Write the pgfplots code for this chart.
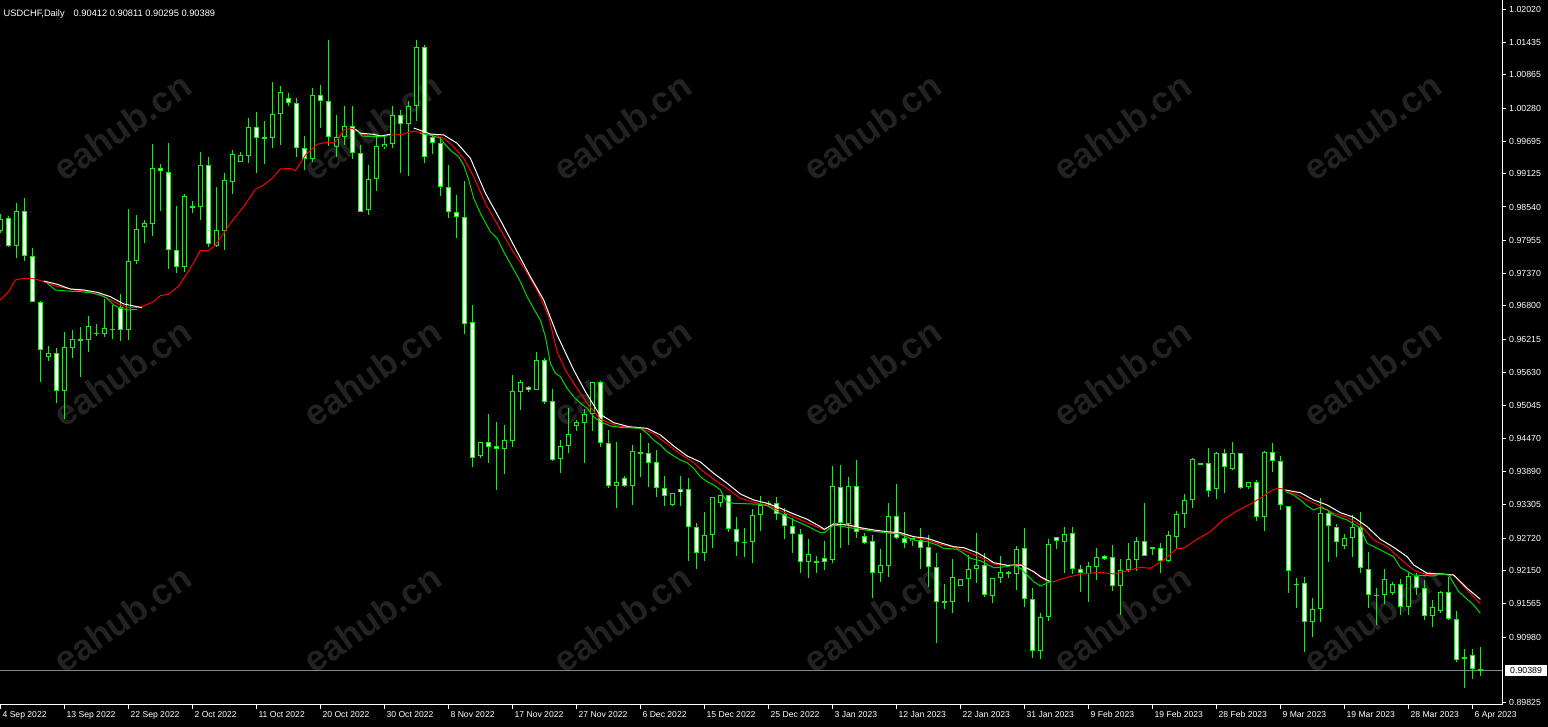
\documentclass[border=0pt]{standalone}
\usepackage{fontspec}
\setmainfont{Liberation Sans}
\usepackage{pgfplots}
\usepackage{pgfplotstable}
\pgfplotsset{compat=1.18}
\definecolor{mtlime}{RGB}{0,255,0}
\definecolor{magreen}{RGB}{0,215,0}
\definecolor{wm}{RGB}{34,34,34}
\definecolor{bidline}{RGB}{119,136,153}

\pgfplotstableread{
k o h l c
0 0.98118 0.98417 0.98083 0.98329
1 0.98347 0.98382 0.97837 0.97854
2 0.97854 0.98610 0.97643 0.98470
3 0.98470 0.98698 0.97591 0.97679
4 0.97679 0.97819 0.96870 0.96870
5 0.96870 0.96887 0.95463 0.96026
6 0.95903 0.96096 0.95833 0.95973
7 0.95973 0.96061 0.95094 0.95305
8 0.95305 0.96342 0.94813 0.96079
9 0.96061 0.96378 0.95885 0.96219
10 0.96202 0.96430 0.95551 0.96210
11 0.96202 0.96624 0.95991 0.96448
12 0.96325 0.96483 0.96272 0.96325
13 0.96307 0.96923 0.96255 0.96413
14 0.96395 0.96817 0.96219 0.96395
15 0.96782 0.97010 0.96184 0.96378
16 0.96378 0.98505 0.96202 0.97591
17 0.97591 0.98399 0.97538 0.98153
18 0.98188 0.98311 0.97907 0.98259
19 0.98241 0.99647 0.98030 0.99226
20 0.99226 0.99296 0.98470 0.99173
21 0.99155 0.99665 0.97450 0.97784
22 0.97784 0.98558 0.97380 0.97485
23 0.97485 0.98768 0.97397 0.98733
24 0.98558 0.98645 0.98434 0.98522
25 0.98540 0.99507 0.98311 0.99278
26 0.99278 0.99419 0.97837 0.97889
27 0.97854 0.98892 0.97837 0.98136
28 0.98118 0.99138 0.97784 0.99015
29 0.98979 0.99542 0.98768 0.99472
30 0.99331 0.99507 0.99331 0.99454
31 0.99437 1.00105 0.99313 0.99946
32 0.99946 1.00210 0.99138 0.99753
33 0.99753 1.00052 0.99296 0.99753
34 0.99753 1.00737 0.99577 1.00175
35 1.00175 1.00667 0.99630 1.00562
36 1.00456 1.00544 1.00316 1.00368
37 1.00368 1.00456 0.99419 0.99577
38 0.99577 0.99788 0.99190 0.99384
39 0.99384 1.00632 0.99331 1.00509
40 1.00509 1.00685 0.99929 1.00403
41 1.00403 1.01476 0.99612 0.99771
42 0.99595 1.00157 0.99419 0.99771
43 0.99771 1.00316 0.99630 0.99964
44 0.99964 1.00316 0.99384 0.99489
45 0.99489 0.99630 0.98452 0.98452
46 0.98487 0.99278 0.98399 0.99032
47 0.99032 0.99771 0.98821 0.99612
48 0.99595 0.99771 0.99560 0.99647
49 0.99647 1.00316 0.99577 1.00157
50 1.00157 1.00245 0.99138 0.99999
51 0.99999 1.00403 0.99085 1.00316
52 1.00316 1.01476 1.00052 1.01353
53 1.01353 1.01388 0.99313 0.99419
54 0.99771 0.99823 0.99472 0.99665
55 0.99665 0.99771 0.98733 0.98892
56 0.98892 0.99278 0.98347 0.98452
57 0.98452 0.98751 0.97995 0.98364
58 0.98364 0.98997 0.96307 0.96483
59 0.96518 0.96817 0.93969 0.94127
60 0.94163 0.94409 0.94127 0.94409
61 0.94409 0.94901 0.94039 0.94321
62 0.94338 0.94760 0.93565 0.94286
63 0.94286 0.94707 0.93846 0.94444
64 0.94426 0.95586 0.94321 0.95305
65 0.95288 0.95499 0.94971 0.95463
66 0.95376 0.95393 0.95288 0.95323
67 0.95323 0.95991 0.95323 0.95850
68 0.95850 0.95885 0.95077 0.95112
69 0.95129 0.95340 0.94075 0.94092
70 0.94110 0.94444 0.93864 0.94338
71 0.94338 0.95006 0.94215 0.94549
72 0.94690 0.94795 0.94602 0.94760
73 0.94743 0.94989 0.94039 0.94901
74 0.94901 0.95463 0.94602 0.95463
75 0.95463 0.95481 0.94321 0.94391
76 0.94391 0.94620 0.93600 0.93635
77 0.93635 0.94409 0.93248 0.93705
78 0.93776 0.93811 0.93618 0.93635
79 0.93635 0.94356 0.93301 0.94250
80 0.94215 0.94567 0.93793 0.94233
81 0.94215 0.94391 0.93618 0.94039
82 0.94057 0.94268 0.93442 0.93600
83 0.93600 0.93811 0.93284 0.93459
84 0.93301 0.93512 0.93284 0.93512
85 0.93582 0.93811 0.93284 0.93530
86 0.93582 0.93776 0.92317 0.92914
87 0.92914 0.92985 0.92176 0.92457
88 0.92457 0.93178 0.92317 0.92774
89 0.92774 0.93442 0.92545 0.93442
90 0.93336 0.93477 0.93266 0.93477
91 0.93477 0.93477 0.92826 0.92879
92 0.92879 0.93090 0.92405 0.92651
93 0.92651 0.92897 0.92387 0.92651
94 0.92651 0.93231 0.92281 0.93125
95 0.93125 0.93459 0.92844 0.93301
96 0.93336 0.93371 0.93284 0.93336
97 0.93336 0.93442 0.93037 0.93143
98 0.93143 0.93248 0.92703 0.92932
99 0.92932 0.93073 0.92457 0.92791
100 0.92791 0.92879 0.92106 0.92299
101 0.92299 0.92703 0.92018 0.92440
102 0.92299 0.92405 0.92106 0.92299
103 0.92369 0.92668 0.92158 0.92299
104 0.92334 0.93987 0.92281 0.93635
105 0.93618 0.94004 0.92545 0.92985
106 0.92967 0.93793 0.92598 0.93635
107 0.93635 0.94092 0.92721 0.92826
108 0.92756 0.92809 0.92615 0.92633
109 0.92668 0.92774 0.91666 0.92106
110 0.92106 0.92528 0.91947 0.92246
111 0.92229 0.93336 0.92035 0.93108
112 0.93108 0.93670 0.92703 0.92721
113 0.92721 0.93178 0.92545 0.92633
114 0.92668 0.92721 0.92580 0.92721
115 0.92686 0.92897 0.92176 0.92545
116 0.92563 0.92774 0.91860 0.92211
117 0.92211 0.92457 0.90875 0.91596
118 0.91613 0.91912 0.91473 0.91578
119 0.91596 0.92352 0.91402 0.92035
120 0.91877 0.92000 0.91877 0.92000
121 0.92000 0.92422 0.91596 0.92176
122 0.92176 0.92809 0.91930 0.92246
123 0.92246 0.92457 0.91684 0.91719
124 0.91701 0.92018 0.91578 0.92018
125 0.92018 0.92405 0.91930 0.92123
126 0.92123 0.92141 0.92018 0.92088
127 0.92088 0.92580 0.91807 0.92528
128 0.92545 0.92897 0.91508 0.91649
129 0.91649 0.91842 0.90611 0.90734
130 0.90734 0.91402 0.90594 0.91332
131 0.91332 0.92703 0.91262 0.92615
132 0.92739 0.92739 0.92528 0.92668
133 0.92651 0.92914 0.92106 0.92791
134 0.92809 0.92914 0.92088 0.92176
135 0.92176 0.92246 0.91772 0.92106
136 0.92088 0.92299 0.91596 0.92229
137 0.92211 0.92545 0.91983 0.92387
138 0.92405 0.92422 0.92334 0.92352
139 0.92387 0.92598 0.91789 0.91877
140 0.91877 0.92352 0.91367 0.92158
141 0.92158 0.92633 0.92123 0.92352
142 0.92334 0.92739 0.92141 0.92668
143 0.92668 0.93336 0.92405 0.92405
144 0.92545 0.92545 0.92422 0.92545
145 0.92545 0.92633 0.92106 0.92317
146 0.92317 0.92844 0.92299 0.92774
147 0.92739 0.93196 0.92545 0.93143
148 0.93143 0.93494 0.92897 0.93389
149 0.93389 0.94127 0.93248 0.94110
150 0.94004 0.94039 0.94004 0.94039
151 0.94039 0.94303 0.93442 0.93547
152 0.93582 0.94233 0.93407 0.94215
153 0.94215 0.94286 0.93512 0.93969
154 0.93934 0.94409 0.93916 0.94215
155 0.94215 0.94215 0.93582 0.93600
156 0.93618 0.93705 0.93582 0.93705
157 0.93705 0.93741 0.93020 0.93090
158 0.93090 0.94250 0.92844 0.94233
159 0.94233 0.94391 0.93881 0.94075
160 0.94075 0.94163 0.93213 0.93301
161 0.93284 0.93284 0.91754 0.92141
162 0.91912 0.92018 0.91490 0.91912
163 0.91930 0.92035 0.90717 0.91244
164 0.91244 0.91666 0.90981 0.91473
165 0.91473 0.93424 0.91244 0.93160
166 0.93160 0.93213 0.92299 0.92932
167 0.92914 0.92967 0.92387 0.92651
168 0.92580 0.92791 0.92528 0.92721
169 0.92721 0.93125 0.92387 0.92914
170 0.92914 0.93178 0.92106 0.92194
171 0.92176 0.92475 0.91490 0.91719
172 0.91719 0.91842 0.91191 0.91719
173 0.91719 0.92176 0.91561 0.92000
174 0.91754 0.91947 0.91719 0.91912
175 0.91912 0.92000 0.91367 0.91508
176 0.91508 0.92106 0.91367 0.92053
177 0.92053 0.92106 0.91719 0.91842
178 0.91842 0.91983 0.91279 0.91350
179 0.91350 0.91631 0.91156 0.91508
180 0.91438 0.91789 0.91402 0.91772
181 0.91772 0.92035 0.91279 0.91297
182 0.91297 0.91438 0.90541 0.90576
183 0.90629 0.90770 0.90084 0.90594
184 0.90664 0.90770 0.90242 0.90418
185 0.90412 0.90811 0.90295 0.90389
}\ohlc

\begin{document}
\begin{tikzpicture}
\fill[black] (0,0) rectangle (1548pt,727pt);
\foreach \wx in {122,372,622,872,1122,1372}{
  \foreach \wy in {127,373,619}{
    \node[text=wm, font=\fontsize{36}{36}\selectfont\bfseries, rotate=35, inner sep=0pt]
      at ({\wx pt},{727pt-\wy pt}) {eahub.cn};
  }
}
\node[anchor=west, text=white, font=\fontsize{9.3}{10}\selectfont, inner sep=0pt]
  at (3.5pt,712.5pt) {USDCHF,Daily\hspace{9pt}0.90412 0.90811 0.90295 0.90389};
\begin{axis}[
  at={(0pt,22pt)}, anchor=south west,
  scale only axis, width=1502pt, height=705pt,
  xmin=-0.05, xmax=187.7, ymin=0.89785, ymax=1.02179,
  axis x line*=bottom, axis y line*=right,
  axis line style={white, line width=1pt},
  tick style={white, line width=1pt},
  tick align=outside, major tick length=4pt,
  scaled ticks=false,
  xtick={0,8,...,184},
  xticklabels={4 Sep 2022,13 Sep 2022,22 Sep 2022,2 Oct 2022,11 Oct 2022,20 Oct 2022,30 Oct 2022,8 Nov 2022,17 Nov 2022,27 Nov 2022,6 Dec 2022,15 Dec 2022,25 Dec 2022,3 Jan 2023,12 Jan 2023,22 Jan 2023,31 Jan 2023,9 Feb 2023,19 Feb 2023,28 Feb 2023,9 Mar 2023,19 Mar 2023,28 Mar 2023,6 Apr 2023},
  ytick={1.0202,1.01435,1.00865,1.0028,0.99695,0.99125,0.9854,0.97955,0.9737,0.968,0.96215,0.9563,0.95045,0.9447,0.9389,0.93305,0.9272,0.9215,0.91565,0.9098,0.89825},
  yticklabels={1.02020,1.01435,1.00865,1.00280,0.99695,0.99125,0.98540,0.97955,0.97370,0.96800,0.96215,0.95630,0.95045,0.94470,0.93890,0.93305,0.92720,0.92150,0.91565,0.90980,0.89825},
  tick label style={text=white},
  xticklabel style={font=\fontsize{8.6}{10}\selectfont, anchor=base west, inner sep=0pt, xshift=2pt, yshift=-8.5pt},
  yticklabel style={font=\fontsize{8.8}{10}\selectfont, anchor=west, inner sep=0pt, xshift=3pt},
  clip mode=individual,
  error bars/error mark=none,
]
% bid line
\addplot[bidline, line width=1pt, mark=none] coordinates {(-0.05,0.90389) (187.7,0.90389)};
% wicks
\addplot[draw=none, mark=none, error bars/.cd, y dir=both, y explicit,
  error bar style={draw=mtlime, line width=1pt}]
  table[x=k, y expr={(\thisrow{h}+\thisrow{l})/2}, y error expr={(\thisrow{h}-\thisrow{l})/2}] {\ohlc};
% body outlines
\addplot[draw=none, mark=none, error bars/.cd, y dir=both, y explicit,
  error bar style={draw=mtlime, line width=5pt}]
  table[x=k, y expr={(\thisrow{o}+\thisrow{c})/2}, y error expr={max(abs(\thisrow{o}-\thisrow{c})/2,0.00009)}] {\ohlc};
% bear fill (white)
\addplot[draw=none, mark=none, restrict expr to domain={\thisrow{o}-\thisrow{c}}{0.0004:1},
  error bars/.cd, y dir=both, y explicit,
  error bar style={draw=white, line width=3pt}]
  table[x=k, y expr={(\thisrow{o}+\thisrow{c})/2}, y error expr={(\thisrow{o}-\thisrow{c})/2-0.000176}] {\ohlc};
% bull fill (black)
\addplot[draw=none, mark=none, restrict expr to domain={\thisrow{c}-\thisrow{o}}{0.0004:1},
  error bars/.cd, y dir=both, y explicit,
  error bar style={draw=black, line width=3pt}]
  table[x=k, y expr={(\thisrow{o}+\thisrow{c})/2}, y error expr={(\thisrow{c}-\thisrow{o})/2-0.000176}] {\ohlc};

% red MA
\addplot[red, line width=1pt, mark=none] coordinates {
(0,0.96905) (1.04,0.97051) (1.88,0.97257) (2.91,0.97286) (3.96,0.97286) (5.21,0.97239) (6.88,0.97151) (8.96,0.97093) (11.04,0.97051) (12.91,0.96963) (13.96,0.96893) (15,0.96817) (16.04,0.9677) (17.5,0.96777) (19.16,0.96875) (20,0.96981) (21.04,0.97005) (22.29,0.97151) (23.75,0.97462) (25,0.97772) (26.04,0.97772) (26.88,0.97872) (27.91,0.98078) (28.75,0.98253) (30.41,0.98545) (31.88,0.98851) (32.91,0.98927) (33.96,0.99044) (35,0.99208) (36.25,0.9922) (36.88,0.99178) (38.13,0.99454) (39.59,0.99642) (41.04,0.99683) (41.66,0.9966) (42.29,0.99748) (42.91,0.99894) (43.96,0.99923) (45.21,0.99823) (46.25,0.99788) (47.5,0.99788) (50.21,0.99818) (51.66,0.99876) (52.5,0.99846) (54.38,0.99806) (55.41,0.99748) (56.46,0.9963) (57.91,0.99396) (59.16,0.99073) (60.63,0.98605) (62.29,0.98194) (63.96,0.97784) (65.63,0.97432) (67.29,0.97023) (68.54,0.96611) (69.59,0.95996) (70.63,0.95674) (71.66,0.95441) (73.34,0.95089) (75,0.94808) (77.09,0.9469) (80,0.94649) (81.66,0.94562) (83.34,0.94373) (85,0.94198) (86.66,0.94045) (87.5,0.93934) (89.16,0.93753) (90.84,0.93595) (92.5,0.93419) (94.16,0.93349) (95.84,0.93301) (97.5,0.93201) (99.16,0.93095) (100.84,0.9299) (102.5,0.92891) (103,0.92862) (104.16,0.92979) (105.84,0.92944) (107.5,0.92891) (110,0.92832) (112.5,0.92804) (114.16,0.92733) (115.84,0.92686) (117.5,0.9261) (119.16,0.92557) (120.84,0.9248) (122.5,0.92378) (124.16,0.92264) (125.84,0.92234) (127.5,0.92259) (129.16,0.92129) (130.84,0.91953) (131.66,0.91953) (133.34,0.9203) (135,0.92083) (137.5,0.92118) (139.16,0.92088) (141.25,0.92158) (142.5,0.92206) (143.75,0.92188) (145.41,0.92334) (147.09,0.9254) (147.91,0.9254) (149.59,0.92698) (151.25,0.92832) (152.91,0.9305) (154.59,0.93196) (156.04,0.93301) (157.5,0.93424) (159.16,0.93577) (160,0.93595) (161.66,0.93507) (163.34,0.93389) (165,0.93284) (166.66,0.93155) (168.34,0.93085) (170,0.92949) (171.66,0.92686) (173.34,0.92568) (175,0.92352) (176.66,0.92158) (178.34,0.9207) (180,0.921) (181.66,0.9207) (183.34,0.91807) (185,0.91561)
};
% white MA segments
\addplot[white, line width=1pt, mark=none] coordinates {
(5.41,0.97239) (7.09,0.97181) (8.75,0.97098) (10.41,0.97081) (12.09,0.9704) (13.75,0.96963) (15.41,0.96835) (17.71,0.9677)
};
\addplot[white, line width=1pt, mark=none] coordinates {
(44.38,0.99906) (45,0.99836) (46.66,0.99818) (47.5,0.99788) (48.75,0.99818)
};
\addplot[white, line width=1pt, mark=none] coordinates {
(51.66,0.99929) (53.75,0.99823) (55.41,0.99806) (57.09,0.9966) (58.75,0.99396) (60.63,0.98781) (62.71,0.98253) (64.59,0.97754) (66.25,0.97315) (67.91,0.96905) (69.59,0.9629) (71.66,0.95674) (73.13,0.95293) (74.79,0.94913) (76.66,0.94748) (78.54,0.94678) (80.84,0.94649) (82.5,0.94532) (84.16,0.94338) (85.84,0.94163) (87.5,0.94057) (89.16,0.93858) (90.84,0.93683) (92.5,0.93494) (94.16,0.93389) (95.84,0.93331) (97.5,0.93243) (99.16,0.93143) (100.84,0.9305) (102.5,0.9292) (103,0.92874) (104.16,0.92967) (106.04,0.92949) (107.5,0.92902) (109.16,0.92862) (110.84,0.92832) (112.5,0.92814) (114.16,0.92744) (115.84,0.92716) (117.5,0.92638) (119.16,0.92568) (120.41,0.9255) (122.09,0.92463) (123.34,0.92364) (124.16,0.92287) (125.84,0.92241) (127.5,0.92246) (129.16,0.92129) (130,0.92041) (131.25,0.91953)
};
\addplot[white, line width=1pt, mark=none] coordinates {
(160.63,0.93565) (162.5,0.93517) (164.16,0.93389) (165.84,0.93301) (167.5,0.93166) (169.16,0.93085) (170.84,0.9292) (172.5,0.92698) (174.16,0.92557) (175.84,0.92392) (176.66,0.92246) (178.34,0.921) (180,0.92088) (181.66,0.9207) (183.34,0.91837) (185,0.91643)
};
% green MA segments
\addplot[magreen, line width=1pt, mark=none] coordinates {
(5.84,0.97199) (6.88,0.97081) (8.34,0.97063) (10,0.97051) (11.25,0.97033) (12.5,0.96993) (13.34,0.96935) (14.16,0.96817) (15,0.96759) (16.04,0.96729) (17.09,0.96741)
};
\addplot[magreen, line width=1pt, mark=none] coordinates {
(44.59,0.99876) (45.21,0.99788) (46.25,0.99776) (47.5,0.99776) (48.34,0.99788)
};
\addplot[magreen, line width=1pt, mark=none] coordinates {
(52.5,0.99836) (54.16,0.99788) (55,0.99748) (55.63,0.9963) (56.46,0.99512) (57.29,0.99424) (57.91,0.99278) (58.54,0.99015) (59.16,0.98693) (60,0.98429) (61.25,0.98106) (62.09,0.9799) (62.91,0.97754) (63.96,0.9749) (65,0.97227) (65.84,0.96963) (66.88,0.96699) (67.5,0.96553) (68.13,0.9626) (68.75,0.95792) (69.38,0.95616) (70,0.95557) (70.84,0.95353) (71.66,0.95205) (72.5,0.95089) (73.34,0.95001) (74.16,0.94853) (75,0.94766) (76.25,0.9469) (77.5,0.94667) (80,0.94649) (80.84,0.94562) (81.66,0.94444) (82.5,0.94356) (83.34,0.94238) (84.16,0.94163) (85,0.94092) (85.84,0.94045) (86.66,0.93946) (87.5,0.93799) (88.34,0.93711) (89.16,0.93653) (90,0.93565) (90.41,0.93447) (90.84,0.93359) (91.66,0.93331) (95,0.93313) (95.84,0.93289) (97.5,0.93155) (99.16,0.93037) (100.84,0.92932) (102.5,0.92814) (103,0.92814) (104.16,0.92949) (106.66,0.92891) (109.59,0.92832) (111.25,0.92804) (112.5,0.92791) (114.16,0.92686) (115.84,0.92656) (117.09,0.92598) (117.91,0.9254) (119.59,0.92522) (120.41,0.92452) (121.25,0.92364) (122.5,0.92322) (124.16,0.92199) (125.84,0.92216) (126.66,0.92246) (127.5,0.92188) (128.34,0.9207) (129.16,0.91953) (130,0.91877) (131.25,0.91953)
};
\addplot[magreen, line width=1pt, mark=none] coordinates {
(160.63,0.93535) (161.66,0.93477) (162.5,0.93389) (163.34,0.93284) (164.16,0.93213) (165,0.93261) (165.84,0.93213) (166.66,0.93125) (168.34,0.93037) (170,0.92891) (170.84,0.92628) (172.5,0.9251) (174.16,0.92392) (175,0.92202) (176.66,0.9207) (179.16,0.92053) (180,0.92088) (181.04,0.9207) (182.29,0.91777) (184.16,0.91543) (185,0.91397)
};
% bid price label
\node[fill=white, text=black, anchor=west, font=\fontsize{8.8}{10}\selectfont, inner xsep=5pt, inner ysep=0pt, minimum height=11pt, xshift=3pt]
  at (axis cs:187.7,0.90389) {0.90389};
\end{axis}
\pgfresetboundingbox
\useasboundingbox (0,0) rectangle (1548pt,727pt);
\end{tikzpicture}
\end{document}
